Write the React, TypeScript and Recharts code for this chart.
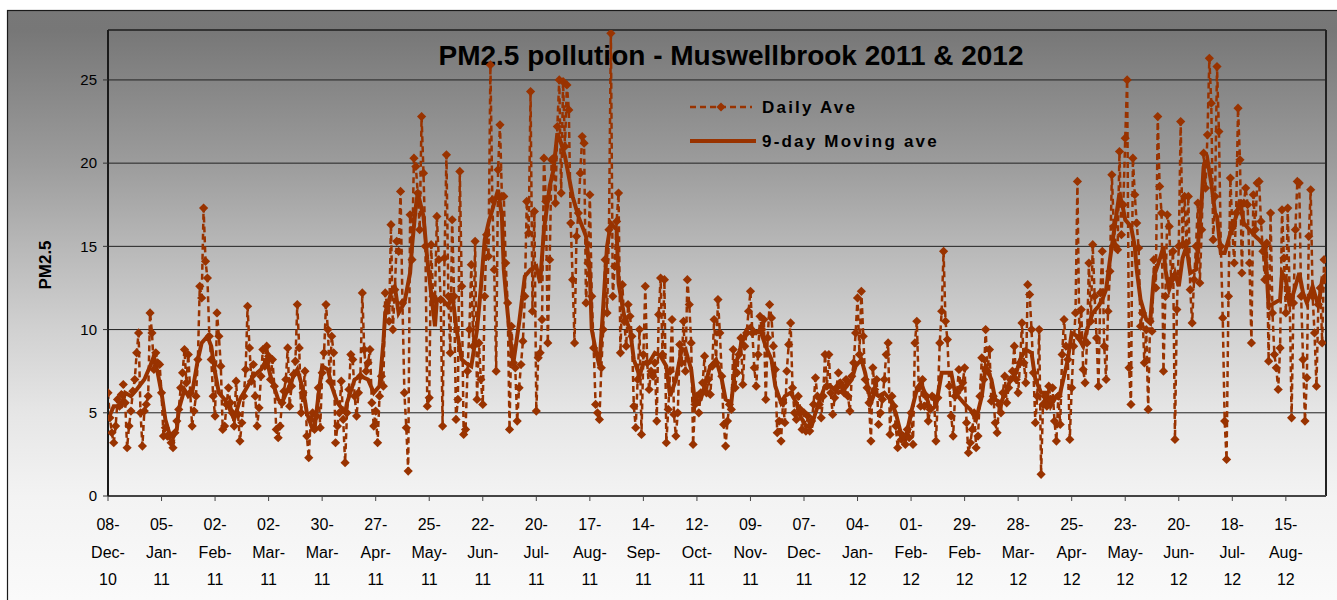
import React from 'react';
import { LineChart, Line, XAxis, YAxis, CartesianGrid, Legend } from 'recharts';

const W = 1337;
const H = 600;
const BROWN = '#993300';
const FONT = "'Liberation Sans', Arial, Helvetica, sans-serif";

const chartTitle = 'PM2.5 pollution - Muswellbrook 2011 & 2012';
const yAxisTitle = 'PM2.5';
const seriesNames = ['Daily Ave', '9-day Moving ave'];

// day index 0 = 08-Dec-10
const tickDays = [0, 28, 56, 84, 112, 140, 168, 196, 224, 252, 280, 308, 336, 364, 392, 420, 448, 476, 504, 532, 560, 588, 616];
const tickLabels = [
  '08-Dec-10', '05-Jan-11', '02-Feb-11', '02-Mar-11', '30-Mar-11', '27-Apr-11', '25-May-11', '22-Jun-11',
  '20-Jul-11', '17-Aug-11', '14-Sep-11', '12-Oct-11', '09-Nov-11', '07-Dec-11', '04-Jan-12', '01-Feb-12',
  '29-Feb-12', '28-Mar-12', '25-Apr-12', '23-May-12', '20-Jun-12', '18-Jul-12', '15-Aug-12',
];
const yTicks = [0, 5, 10, 15, 20, 25];

// Daily average PM2.5, one value per day from 08-Dec-10
const dailyAve = [
  6.2, 4.7, 3.8, 3.2, 4.2, 5.8, 5.4, 6.1, 6.7, 5.6,
  2.9, 4.2, 5.1, 6.3, 7.0, 8.6, 9.8, 5.0, 3.0, 5.1,
  5.5, 6.0, 11.0, 9.8, 7.6, 8.6, 8.0, 7.9, 6.2, 3.6,
  4.1, 3.6, 3.6, 3.2, 2.9, 3.8, 4.5, 5.2, 6.5, 7.4,
  8.8, 6.8, 8.5, 6.2, 4.2, 5.1, 6.0, 8.2, 12.6, 11.9,
  17.3, 14.1, 13.1, 9.6, 8.2, 6.0, 4.8, 11.0, 9.6, 7.8,
  4.0, 4.2, 5.5, 6.5, 5.6, 5.0, 4.2, 6.9, 4.9, 3.3,
  4.4, 6.0, 7.6, 11.4, 8.9, 6.9, 7.9, 6.0, 4.2, 5.3,
  7.2, 8.8, 7.8, 9.0, 8.4, 7.0, 8.2, 6.6, 4.0, 3.5,
  4.2, 5.6, 6.3, 7.0, 8.9, 5.4, 6.6, 7.3, 8.1, 11.5,
  8.9, 5.0, 6.2, 7.5, 3.6, 2.3, 4.6, 5.0, 4.0, 4.8,
  6.5, 4.1, 7.4, 8.6, 11.5, 10.0, 6.9, 9.6, 8.6, 3.2,
  4.2, 5.0, 6.9, 4.6, 2.0, 5.0, 6.4, 8.5, 8.2, 6.0,
  4.8, 6.2, 7.2, 12.2, 8.8, 7.5, 8.0, 8.8, 5.6, 4.2,
  5.1, 3.2, 6.0, 7.2, 6.6, 12.2, 11.4, 10.5, 16.3, 10.0,
  12.4, 15.3, 14.7, 18.3, 11.6, 6.2, 4.1, 1.5, 16.9, 14.2,
  20.3, 19.8, 18.2, 16.0, 22.8, 19.4, 15.0, 5.4, 5.9, 15.1,
  12.0, 11.8, 16.8, 14.2, 11.8, 4.2, 14.3, 20.5, 12.0, 8.6,
  16.6, 12.0, 4.6, 5.8, 19.5, 12.6, 3.7, 4.0, 7.5, 10.0,
  13.9, 9.0, 15.3, 5.8, 9.2, 7.0, 5.5, 12.0, 15.7, 14.4,
  25.9, 17.8, 13.6, 7.5, 19.6, 22.3, 18.0, 18.0, 14.0, 11.6,
  4.0, 10.2, 8.0, 7.7, 4.5, 6.5, 7.9, 9.3, 12.0, 17.7,
  15.8, 24.3, 11.1, 17.1, 5.1, 8.3, 8.6, 10.6, 20.3, 17.7,
  9.2, 14.2, 20.2, 20.3, 17.6, 22.2, 25.0, 18.2, 24.9, 21.0,
  24.7, 23.2, 16.4, 13.0, 9.2, 15.6, 17.0, 19.4, 21.6, 21.2,
  11.6, 14.0, 18.1, 12.0, 8.9, 5.5, 5.0, 4.6, 7.7, 10.0,
  14.2, 11.0, 16.0, 27.8, 12.0, 13.8, 16.5, 18.2, 8.6, 12.7,
  10.5, 9.0, 11.5, 10.8, 9.6, 5.4, 4.1, 7.0, 10.0, 3.7,
  8.5, 12.6, 8.0, 6.4, 7.5, 7.2, 8.0, 4.5, 10.9, 13.1,
  8.5, 13.0, 3.2, 5.2, 7.5, 10.6, 4.9, 3.6, 5.0, 9.1,
  8.0, 10.5, 7.5, 13.0, 11.5, 9.2, 3.1, 5.5, 6.0, 5.0,
  6.2, 6.8, 8.4, 6.2, 7.0, 6.1, 7.8, 10.6, 8.0, 11.8,
  9.8, 7.2, 4.3, 3.0, 4.5, 5.5, 5.2, 8.8, 6.5, 7.4,
  8.5, 9.5, 6.7, 9.0, 9.8, 11.1, 12.3, 9.8, 7.7, 6.6,
  8.5, 10.8, 10.0, 10.6, 5.8, 9.5, 11.5, 10.7, 9.0, 7.6,
  3.8, 4.5, 3.3, 5.6, 4.4, 7.5, 9.1, 10.4, 6.5, 5.0,
  4.6, 6.0, 5.2, 4.0, 5.0, 3.9, 4.8, 3.9, 4.5, 5.5,
  7.1, 6.0, 5.5, 4.7, 6.0, 8.5, 6.6, 8.5, 6.2, 4.9,
  5.9, 6.5, 7.4, 6.8, 6.6, 6.2, 7.0, 6.0, 5.1, 7.2,
  8.0, 9.8, 11.9, 8.5, 12.3, 9.6, 7.0, 6.5, 5.6, 3.3,
  7.7, 6.4, 7.0, 4.3, 5.0, 5.8, 7.0, 8.5, 9.2, 3.7,
  6.0, 5.4, 4.2, 2.9, 3.8, 3.4, 3.6, 3.1, 4.0, 3.5,
  5.0, 3.1, 9.2, 10.5, 6.5, 5.4, 7.0, 5.4, 6.0, 4.5,
  5.2, 6.0, 5.9, 3.3, 5.9, 9.2, 11.1, 14.7, 10.5, 9.4,
  6.6, 4.8, 3.6, 6.0, 6.2, 7.6, 6.5, 6.8, 7.7, 4.4,
  2.6, 3.2, 4.0, 5.0, 2.9, 3.6, 6.0, 8.3, 7.0, 10.0,
  7.5, 8.8, 5.7, 6.0, 4.4, 3.8, 5.5, 5.0, 6.2, 7.2,
  5.6, 6.5, 7.0, 7.5, 9.0, 7.0, 6.2, 8.0, 10.4, 8.0,
  6.8, 12.7, 12.1, 10.0, 7.4, 4.4, 6.0, 10.0, 1.3, 5.5,
  6.0, 5.4, 6.6, 5.8, 6.5, 4.5, 3.3, 6.0, 4.3, 8.5,
  10.6, 9.0, 8.2, 3.4, 6.5, 9.0, 11.0, 18.9, 9.5, 11.2,
  7.6, 6.8, 9.2, 14.0, 10.5, 15.1, 12.0, 9.5, 6.6, 12.2,
  14.7, 9.0, 7.0, 11.1, 13.5, 19.3, 16.2, 15.0, 14.8, 20.7,
  15.7, 17.5, 21.5, 25.0, 7.7, 5.5, 20.3, 18.1, 16.4, 14.9,
  10.2, 11.0, 8.0, 10.0, 5.2, 10.5, 9.9, 14.2, 12.5, 22.8,
  18.6, 17.0, 7.5, 12.0, 16.9, 16.2, 13.0, 14.7, 3.4, 11.2,
  15.0, 22.5, 15.1, 18.0, 15.2, 18.0, 12.4, 10.4, 13.0, 15.0,
  17.6, 12.8, 16.0, 20.6, 18.5, 21.7, 26.3, 23.6, 15.4, 18.0,
  25.8, 21.9, 15.0, 10.7, 4.5, 2.2, 12.0, 19.1, 16.1, 14.0,
  17.0, 23.3, 20.2, 13.4, 17.6, 18.5, 17.5, 14.0, 9.2, 18.1,
  16.0, 18.8, 18.9, 16.5, 14.7, 13.0, 15.2, 8.1, 17.0, 11.0,
  8.5, 7.7, 6.4, 8.9, 17.2, 14.3, 11.0, 17.3, 12.0, 4.7,
  11.6, 16.0, 18.9, 18.8, 12.0, 8.2, 4.5, 7.1, 15.6, 18.4,
  12.0, 9.8, 6.6, 11.5, 12.5, 9.2, 14.2, 13.2,
];

// 9-day moving average, read at these day indices
const movingAveDays = [
  0, 3, 7, 9, 12, 15, 19, 22, 24, 26, 28, 30, 32, 34, 36, 37, 40, 42, 44, 47, 49, 52, 54, 56, 58, 61,
  63, 66, 69, 72, 76, 80, 83, 85, 89, 91, 94, 97, 99, 102, 104, 107, 108, 110, 112, 115, 117, 120, 124,
  125, 129, 132, 136, 139, 142, 144, 145, 148, 150, 152, 155, 158, 159, 161, 162, 165, 167, 169, 171, 172, 175, 178, 180, 182, 185, 187,
  190, 193, 195, 197, 199, 202, 204, 206, 207, 209, 211, 212, 215, 218, 221, 224, 226, 228, 231, 233, 235, 237, 239, 243, 246, 248,
  250, 252, 253, 255, 257, 259, 261, 263, 266, 267, 270, 273, 275, 278, 280, 283, 286, 289, 292, 294, 297, 300, 302, 305, 307, 310,
  313, 315, 318, 321, 323, 326, 328, 331, 334, 336, 339, 341, 344, 347, 349, 352, 354, 357, 360, 362, 365, 368, 370, 373, 375,
  378, 382, 385, 389, 391, 394, 396, 399, 401, 403, 406, 409, 412, 415, 417, 420, 423, 425, 428, 430, 433, 436,
  438, 441, 443, 446, 449, 451, 454, 457, 459, 462, 464, 467, 470, 472, 475, 477, 480, 483, 485, 488, 491, 493, 496, 498,
  500, 502, 504, 507, 510, 512, 515, 518, 520, 522, 524, 526, 529, 531, 532, 535, 537, 538, 540, 543, 545, 547, 550, 552, 553, 555, 558, 560, 562, 564,
  566, 569, 572, 573, 575, 577, 579, 580, 582, 584, 586, 587, 590, 592, 594, 597, 600, 602, 605, 606, 607, 610, 613, 614, 616, 618, 620, 623, 625, 627, 630, 633, 635, 637,
];
const movingAveValues = [
  4.6, 5.4, 5.4, 6.2, 6.0, 6.4, 7.0, 7.8, 8.4, 7.4, 6.2, 4.6, 3.8, 3.5, 4.0, 5.2, 6.4, 6.0, 6.2, 8.2, 9.2, 9.6, 9.0, 7.4, 6.2, 5.8,
  5.4, 4.6, 5.8, 6.4, 7.2, 7.6, 8.2, 7.2, 5.8, 5.6, 6.4, 7.2, 7.6, 6.4, 5.0, 4.0, 4.0, 6.0, 7.8, 7.6, 6.6, 5.6, 5.0,
  5.6, 7.0, 7.2, 7.0, 6.2, 6.6, 9.2, 11.0, 12.2, 12.6, 11.0, 11.6, 13.4, 15.0, 17.4, 18.2, 16.8, 14.2, 12.2, 10.2, 11.8, 11.8, 11.4, 12.2, 10.2, 8.2, 8.0,
  7.8, 10.0, 12.5, 15.4, 16.4, 17.6, 18.4, 16.8, 13.6, 11.0, 8.8, 8.0, 10.4, 13.2, 13.6, 13.8, 12.8, 16.0, 18.6, 19.6, 21.8, 21.2, 20.4, 18.0, 16.8, 16.2,
  15.6, 13.4, 10.0, 8.8, 7.8, 11.4, 15.0, 16.4, 16.0, 12.8, 10.8, 10.0, 8.2, 7.2, 8.0, 8.0, 8.6, 8.4, 7.8, 6.0, 7.0, 8.8, 8.8, 7.6, 5.6, 5.8,
  7.0, 7.8, 8.2, 7.0, 5.8, 5.6, 7.8, 9.0, 10.0, 10.2, 9.8, 10.0, 9.0, 8.2, 6.6, 5.6, 6.0, 6.2, 5.6, 4.8, 4.2, 4.2, 5.0, 6.0, 6.6,
  6.6, 6.2, 6.4, 7.0, 7.8, 8.2, 7.4, 5.6, 6.2, 6.0, 6.2, 5.8, 5.0, 3.6, 3.4, 5.0, 6.4, 6.8, 6.0, 5.2, 5.4, 7.4,
  7.4, 7.4, 6.2, 5.8, 5.4, 5.2, 4.6, 6.0, 7.8, 7.0, 5.8, 5.6, 6.4, 7.0, 7.4, 8.2, 8.8, 8.6, 7.0, 6.2, 6.2, 5.4, 6.0, 6.2,
  7.2, 8.2, 9.8, 9.6, 9.0, 10.0, 11.0, 11.4, 11.8, 12.4, 14.2, 15.8, 18.2, 17.2, 16.6, 16.2, 15.0, 13.6, 11.8, 10.6, 10.4, 13.2, 14.2, 15.0, 13.6, 12.4, 13.4, 12.6, 14.3, 15.0,
  13.4, 13.6, 17.8, 19.8, 20.2, 18.8, 17.0, 16.8, 14.6, 14.6, 15.4, 15.8, 16.8, 17.8, 16.4, 16.0, 15.6, 15.4, 15.0, 13.4, 11.4, 11.6, 11.8, 13.4, 13.0, 11.4, 12.2, 13.4, 12.2, 11.6, 12.6, 11.4, 13.0, 12.8,
];

type Row = { day: number; daily: number; ma?: number };
const data: Row[] = dailyAve.map((v, i) => ({ day: i, daily: v }));
movingAveDays.forEach((d, i) => {
  if (data[d]) data[d].ma = movingAveValues[i];
});

const renderDiamond = (props: any) => {
  const { cx, cy, index } = props;
  if (cx == null || cy == null || isNaN(cx) || isNaN(cy)) return <g key={`dm-${index}`} />;
  const r = 4.6;
  return (
    <polygon
      key={`dm-${index}`}
      points={`${cx},${cy - r} ${cx + r},${cy} ${cx},${cy + r} ${cx - r},${cy}`}
      fill={BROWN}
    />
  );
};

const XTick = (props: any) => {
  const { x, y, payload } = props;
  const idx = tickDays.indexOf(payload.value);
  const label = idx >= 0 ? tickLabels[idx] : '';
  const parts = label.split('-');
  const lines = [parts[0] + '-', parts[1] + '-', parts[2]];
  const base = y + 27;
  return (
    <text x={x} y={base} textAnchor="middle" fontSize={16} fill="#000" fontFamily={FONT}>
      {lines.map((l, k) => (
        <tspan key={k} x={x} y={base + k * 27.5}>
          {l}
        </tspan>
      ))}
    </text>
  );
};

const LegendContent = () => (
  <svg width={300} height={70} style={{ overflow: 'visible', display: 'block' }}>
    <line x1={4} y1={15} x2={66} y2={15} stroke={BROWN} strokeWidth={2.5} strokeDasharray="6 4" />
    <polygon points="35,10.4 39.6,15 35,19.6 30.4,15" fill={BROWN} />
    <text x={76} y={21} fontSize={17} fontWeight="bold" letterSpacing={2.2} fill="#000" fontFamily={FONT}>
      {seriesNames[0]}
    </text>
    <line x1={4} y1={49} x2={70} y2={49} stroke={BROWN} strokeWidth={4} />
    <text x={76} y={55} fontSize={17} fontWeight="bold" letterSpacing={2.2} fill="#000" fontFamily={FONT}>
      {seriesNames[1]}
    </text>
  </svg>
);

export default function App() {
  return (
    <div
      style={{
        position: 'absolute',
        left: 0,
        top: 0,
        width: W,
        height: H,
        overflow: 'hidden',
        background: '#fff',
        fontFamily: FONT,
      }}
    >
      <svg width={W} height={H} style={{ position: 'absolute', left: 0, top: 0 }}>
        <defs>
          <linearGradient id="bgGrad" x1="0" y1="10" x2="0" y2="600" gradientUnits="userSpaceOnUse">
            <stop offset="0" stopColor="#787878" />
            <stop offset="0.034" stopColor="#777777" />
            <stop offset="0.261" stopColor="#9c9c9c" />
            <stop offset="0.402" stopColor="#b8b8b8" />
            <stop offset="0.542" stopColor="#d1d1d1" />
            <stop offset="0.683" stopColor="#e6e6e6" />
            <stop offset="0.824" stopColor="#f3f3f3" />
            <stop offset="1" stopColor="#fafafa" />
          </linearGradient>
        </defs>
        <rect x={7.5} y={10.5} width={W} height={H} fill="url(#bgGrad)" stroke="#1a1a1a" strokeWidth={1.2} />
        <line x1={108} y1={30} x2={1326} y2={30} stroke="#333" strokeWidth={1.5} />
        <line x1={1326} y1={30} x2={1326} y2={496} stroke="#222" strokeWidth={2} />
        <text x={731} y={65} textAnchor="middle" fontSize={28} fontWeight="bold" fill="#000" fontFamily={FONT}>
          {chartTitle}
        </text>
        <text
          transform="rotate(-90 51 265)"
          x={51}
          y={265}
          textAnchor="middle"
          fontSize={17}
          fontWeight="bold"
          fill="#000"
          fontFamily={FONT}
        >
          {yAxisTitle}
        </text>
      </svg>
      <div style={{ position: 'absolute', left: 0, top: 0 }}>
        <LineChart width={W} height={H} data={data} margin={{ top: 30, right: 11, bottom: 0, left: 0 }}>
          <CartesianGrid vertical={false} stroke="#222" strokeOpacity={1} />
          <XAxis
            dataKey="day"
            type="number"
            domain={[0, 637]}
            ticks={tickDays}
            interval={0}
            allowDataOverflow
            height={104}
            tickSize={5}
            tickMargin={2}
            tick={<XTick />}
            axisLine={{ stroke: '#444', strokeWidth: 2 }}
            tickLine={{ stroke: '#444' }}
          />
          <YAxis
            type="number"
            domain={[0, 28]}
            ticks={yTicks}
            allowDataOverflow
            width={108}
            tickSize={5}
            tickMargin={6}
            tick={{ fontSize: 15, fill: '#000', fontFamily: FONT }}
            axisLine={{ stroke: '#1a1a1a', strokeWidth: 2 }}
            tickLine={{ stroke: '#333' }}
          />
          <Legend
            layout="vertical"
            align="center"
            verticalAlign="middle"
            wrapperStyle={{ left: 686, top: 92, width: 300, height: 70 }}
            content={<LegendContent />}
          />
          <Line
            dataKey="daily"
            name={seriesNames[0]}
            stroke={BROWN}
            strokeWidth={2.5}
            strokeDasharray="6 4"
            dot={renderDiamond}
            activeDot={false}
            isAnimationActive={false}
          />
          <Line
            dataKey="ma"
            name={seriesNames[1]}
            stroke={BROWN}
            strokeWidth={4}
            dot={false}
            activeDot={false}
            connectNulls
            isAnimationActive={false}
          />
        </LineChart>
      </div>
    </div>
  );
}
